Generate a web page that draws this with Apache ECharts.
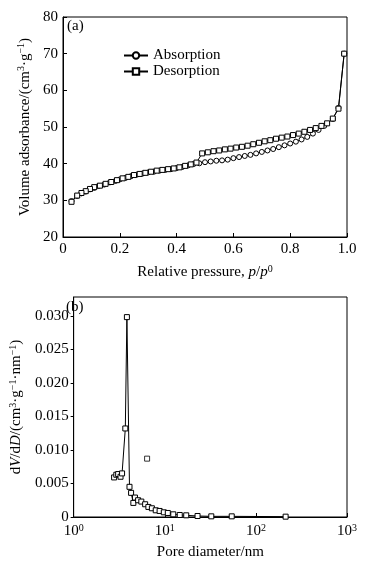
<!DOCTYPE html>
<html><head><meta charset="utf-8">
<script src="https://cdn.jsdelivr.net/npm/echarts@6/dist/echarts.min.js"></script>
<style>html,body{margin:0;padding:0;background:#fff}#c{width:366px;height:561px}</style>
</head><body><div id="c"></div>
<script>
// (a) isotherm
const adsP = [0.03,0.05,0.065,0.08,0.095,0.11,0.125,0.145,0.165,0.185,0.2,0.22,0.24,0.26,0.28,0.3,0.32,0.34,0.36,0.38,0.4,0.42,0.44,0.46,0.48,0.5,0.52,0.54,0.56,0.58,0.6,0.62,0.64,0.66,0.68,0.7,0.72,0.74,0.76,0.78,0.8,0.82,0.84,0.86,0.88,0.9,0.92,0.95,0.97,0.99];
const adsV = [29.8,31.2,31.9,32.4,33.0,33.4,33.9,34.3,34.9,35.3,35.7,36.1,36.6,37.0,37.3,37.6,37.8,38.1,38.3,38.5,38.8,39.1,39.5,39.9,40.1,40.4,40.6,40.8,40.9,41.1,41.5,41.8,42.1,42.4,42.8,43.2,43.6,44.0,44.5,45.0,45.5,46.0,46.6,47.3,48.2,49.2,50.3,52.2,55.2,70];
const desP = [0.99,0.97,0.95,0.93,0.91,0.89,0.87,0.85,0.83,0.81,0.79,0.77,0.75,0.73,0.71,0.69,0.67,0.65,0.63,0.61,0.59,0.57,0.55,0.53,0.51,0.49,0.47,0.45,0.43,0.41,0.39,0.37,0.35,0.33,0.31,0.29,0.27,0.25,0.23,0.21,0.19,0.17,0.15,0.13,0.11,0.095,0.08,0.065,0.05,0.03];
const desV = [70,55,52.3,51.0,50.3,49.7,49.2,48.7,48.2,47.8,47.4,47.1,46.8,46.4,46.1,45.7,45.3,44.9,44.6,44.4,44.1,43.9,43.6,43.4,43.1,42.8,40.3,39.8,39.4,39.0,38.7,38.5,38.3,38.1,37.8,37.5,37.2,36.9,36.4,36.0,35.5,35.0,34.5,34.0,33.6,33.1,32.5,32.0,31.3,29.6];
const xTicksA = [0,0.2,0.4,0.6,0.8,1.0];
const yTicksA = [20,30,40,50,60,70,80];
// (b) pore size distribution
const poreD = [2.78,2.94,3.08,3.27,3.40,3.69,3.84,4.10,4.27,4.52,4.71,5.10,5.53,6.09,6.61,7.22,7.96,8.78,9.76,10.8,12.4,14.6,17.2,22.9,32.4,54.3,212];
const poreV = [0.0059,0.0063,0.0064,0.0060,0.0065,0.0132,0.0298,0.0045,0.0036,0.0021,0.0029,0.0025,0.0023,0.0019,0.0015,0.0013,0.0010,0.0009,0.0007,0.0006,0.0004,0.0003,0.00025,0.00015,0.0001,0.0001,0.00005];
const outlierD = [6.4];
const outlierV = [0.0087];
const yTicksB = [0,0.005,0.010,0.015,0.020,0.025,0.030];

const F = 'Liberation Serif';
const rich = {
  sup:{fontFamily:F,fontSize:10,color:'#000',padding:[0,0,7,0]},
  i:{fontFamily:F,fontSize:15,fontStyle:'italic',color:'#000'},
  n:{fontFamily:F,fontSize:15,color:'#000'}
};
const chart = echarts.init(document.getElementById('c'));
const mk = (sym) => ({symbol:sym,symbolSize:5,showSymbol:true,
  itemStyle:{color:'#fff',borderColor:'#000',borderWidth:1},
  lineStyle:{color:'#000',width:1}});
const axisCommon = {
  axisLine:{show:true,lineStyle:{color:'#000',width:1}},
  axisTick:{show:true,inside:true,length:4,lineStyle:{color:'#000'}},
  splitLine:{show:false},
  axisLabel:{fontFamily:F,fontSize:15,color:'#000',margin:5}
};
chart.setOption({
  animation:false,
  backgroundColor:'#fff',
  grid:[
    {left:63,right:19,top:17,height:220,show:true,borderColor:'#000',borderWidth:1,backgroundColor:'transparent'},
    {left:63,right:19,top:297,height:220,show:true,borderColor:'#000',borderWidth:1,backgroundColor:'transparent'}
  ],
  legend:{left:118,top:43,orient:'vertical',itemGap:1,itemWidth:24,itemHeight:8,
    textStyle:{fontFamily:F,fontSize:15,color:'#000'},
    data:['Absorption','Desorption']},
  graphic:[
    {type:'text',left:67,top:19,style:{text:'(a)',font:'15px "Liberation Serif"',fill:'#000'}},
    {type:'text',left:66,top:300,style:{text:'(b)',font:'15px "Liberation Serif"',fill:'#000'}}
  ],
  xAxis:[
    Object.assign({},axisCommon,{gridIndex:0,type:'value',min:xTicksA[0],max:xTicksA[xTicksA.length-1],interval:0.2,
      axisLabel:Object.assign({},axisCommon.axisLabel,{formatter:v=>v===0?'0':v.toFixed(1)}),
      name:'Relative pressure, {i|p}/{i|p}{sup|0}',nameLocation:'middle',nameGap:27,
      nameTextStyle:{fontFamily:F,fontSize:15,color:'#000',rich:rich}}),
    Object.assign({},axisCommon,{gridIndex:1,type:'log',logBase:10,min:1,max:1000,
      axisLabel:Object.assign({},axisCommon.axisLabel,{margin:6,formatter:v=>'{n|10}{sup|'+Math.round(Math.log10(v))+'}',rich:rich}),
      name:'Pore diameter/nm',nameLocation:'middle',nameGap:28,
      nameTextStyle:{fontFamily:F,fontSize:15,color:'#000'}})
  ],
  yAxis:[
    Object.assign({},axisCommon,{gridIndex:0,type:'value',min:yTicksA[0],max:yTicksA[yTicksA.length-1],interval:10,
      name:'Volume adsorbance/(cm{sup|3}·g{sup|−1})',nameLocation:'middle',nameGap:24,
      nameTextStyle:{fontFamily:F,fontSize:15,color:'#000',rich:rich}}),
    Object.assign({},axisCommon,{gridIndex:1,type:'value',min:0,max:0.0328,interval:0.005,
      axisLabel:Object.assign({},axisCommon.axisLabel,{showMaxLabel:false,formatter:v=>v===0?'0':v.toFixed(3)}),
      axisTick:Object.assign({},axisCommon.axisTick,{inside:false,length:3}),
      name:'d{i|V}/d{i|D}/(cm{sup|3}·g{sup|−1}·nm{sup|−1})',nameLocation:'middle',nameGap:48,
      nameTextStyle:{fontFamily:F,fontSize:15,color:'#000',rich:rich}})
  ],
  series:[
    Object.assign(mk('circle'),{name:'Absorption',type:'line',xAxisIndex:0,yAxisIndex:0,data:adsP.map((p,i)=>[p,adsV[i]])}),
    Object.assign(mk('rect'),{name:'Desorption',type:'line',xAxisIndex:0,yAxisIndex:0,data:desP.map((p,i)=>[p,desV[i]])}),
    Object.assign(mk('rect'),{name:'PSD',type:'line',xAxisIndex:1,yAxisIndex:1,data:poreD.map((d,i)=>[d,poreV[i]])}),
    Object.assign(mk('rect'),{name:'PSD2',type:'scatter',xAxisIndex:1,yAxisIndex:1,data:outlierD.map((d,i)=>[d,outlierV[i]])})
  ]
});
</script></body></html>
